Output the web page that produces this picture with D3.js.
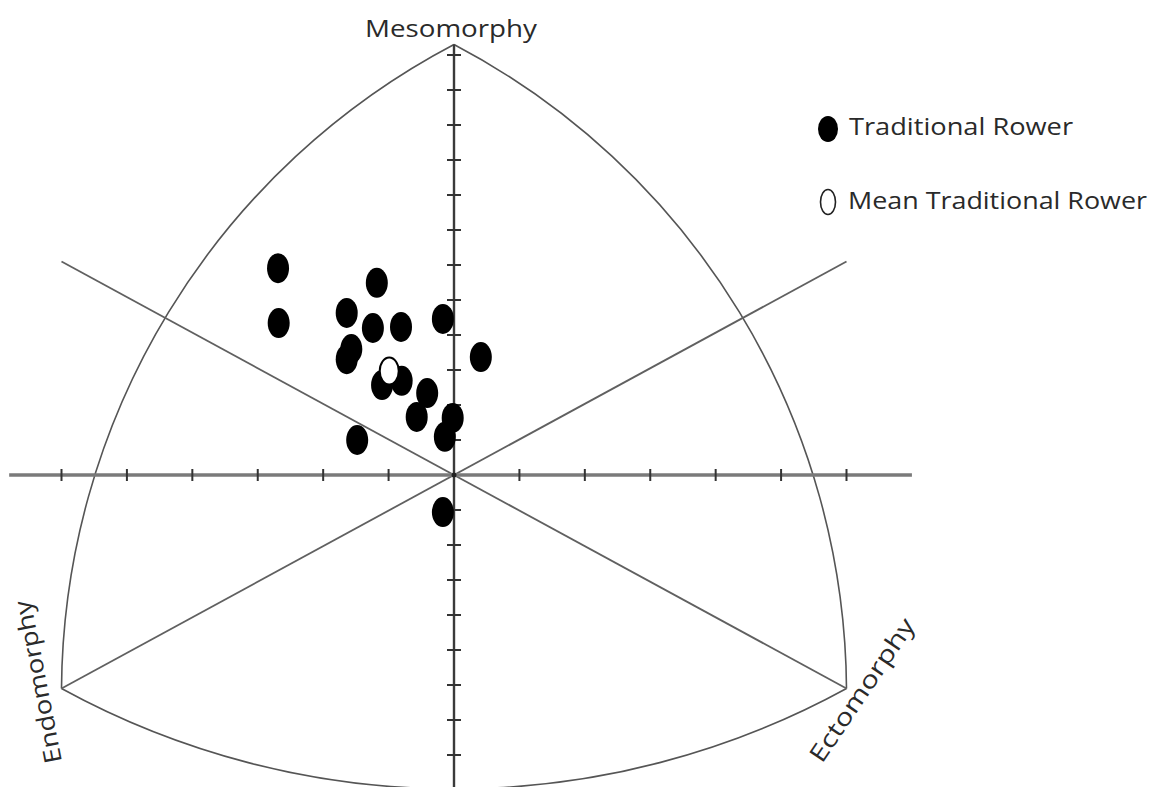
<!DOCTYPE html>
<html>
<head>
<meta charset="utf-8">
<script src="https://cdn.jsdelivr.net/npm/d3@7"></script>
<style>
    body { margin: 0; background: #fff; }
    svg { display: block; font-family: "Open Sans", sans-serif; }
</style>
</head>
<body>
<div id="somatochart"><svg></svg></div>
<script>
// somatotype points (X = ecto - endo, Y = 2*meso - (endo + ecto))
const rowerX = [-2.69, -2.68, -1.18, -1.64, -1.24, -0.81, -0.17, 0.41, -1.57, -1.64, -1.10, -0.80, -0.41, -0.57, -0.02, -0.14, -1.48, -0.17];
const rowerY = [5.91, 4.34, 5.49, 4.63, 4.20, 4.23, 4.46, 3.37, 3.60, 3.31, 2.57, 2.69, 2.34, 1.66, 1.63, 1.09, 1.00, -1.06];
const meanX = [-0.99];
const meanY = [2.97];

// chart frame
const vertexNames = ['Mesomorphy', 'Endomorphy', 'Ectomorphy'];
const vertexX = [0, -6, 6];
const vertexY = [12.3, -6.1, -6.1];
// point on each arc between two vertices (from, to, mid x, mid y)
const arcFrom = [0, 0, 1];
const arcTo = [1, 2, 2];
const arcMidX = [-5.49, 5.49, 0];
const arcMidY = [0, 0, -8.97];
const xTicks = [-6, -5, -4, -3, -2, -1, 1, 2, 3, 4, 5, 6];
const yTicks = [-9, -8, -7, -6, -5, -4, -3, -2, -1, 1, 2, 3, 4, 5, 6, 7, 8, 9, 10, 11, 12];
const xAxisExtent = [-6.8, 7.0];
const yAxisExtent = [-9.5, 12.3];
const legendLabels = ['Traditional Rower', 'Mean Traditional Rower'];

const width = 1151, height = 787;

const x = d3.scaleLinear().domain([-6, 6]).range([61.5, 846.5]);
const y = d3.scaleLinear().domain([-6, 12]).range([685, 55]);

const svg = d3.select('#somatochart svg')
    .attr('width', width)
    .attr('height', height);

// circle through three points -> svg arc
function arcPath(p1, pm, p2) {
    const ax = p1[0], ay = p1[1], bx = pm[0], by = pm[1], cx = p2[0], cy = p2[1];
    const d = 2 * (ax * (by - cy) + bx * (cy - ay) + cx * (ay - by));
    const ux = ((ax * ax + ay * ay) * (by - cy) + (bx * bx + by * by) * (cy - ay) + (cx * cx + cy * cy) * (ay - by)) / d;
    const uy = ((ax * ax + ay * ay) * (cx - bx) + (bx * bx + by * by) * (ax - cx) + (cx * cx + cy * cy) * (bx - ax)) / d;
    const r = Math.hypot(ax - ux, ay - uy);
    const cross = (bx - ax) * (cy - by) - (by - ay) * (cx - bx);
    const sweep = cross > 0 ? 1 : 0;
    return `M${ax},${ay} A${r},${r} 0 0 ${sweep} ${cx},${cy}`;
}

const vpx = vertexX.map((v, i) => [x(v), y(vertexY[i])]);

svg.append('g').attr('class', 'arcs')
    .selectAll('path')
    .data(arcFrom)
    .enter()
    .append('path')
    .attr('d', (d, i) => arcPath(vpx[d], [x(arcMidX[i]), y(arcMidY[i])], vpx[arcTo[i]]))
    .attr('fill', 'none')
    .attr('stroke', '#555')
    .attr('stroke-width', 1.6);

// diagonal lines through the origin
const diag = svg.append('g').attr('class', 'diagonals');
diag.append('line')
    .attr('x1', x(vertexX[1])).attr('y1', y(vertexY[1]))
    .attr('x2', x(-vertexX[1])).attr('y2', y(-vertexY[1]))
    .attr('stroke', '#606060').attr('stroke-width', 1.8);
diag.append('line')
    .attr('x1', x(vertexX[2])).attr('y1', y(vertexY[2]))
    .attr('x2', x(-vertexX[2])).attr('y2', y(-vertexY[2]))
    .attr('stroke', '#606060').attr('stroke-width', 1.8);

// lines from the mesomorphy vertex to the top of the axis
// horizontal axis
svg.append('line')
    .attr('x1', x(xAxisExtent[0])).attr('x2', x(xAxisExtent[1]))
    .attr('y1', y(0)).attr('y2', y(0))
    .attr('stroke', '#7a7a7a')
    .attr('stroke-width', 3.5);

svg.append('g').attr('class', 'x-ticks')
    .selectAll('line')
    .data(xTicks)
    .enter()
    .append('line')
    .attr('x1', d => x(d)).attr('x2', d => x(d))
    .attr('y1', y(0) - 6).attr('y2', y(0) + 6)
    .attr('stroke', '#333')
    .attr('stroke-width', 2);

// vertical axis
svg.append('line')
    .attr('x1', x(0)).attr('x2', x(0))
    .attr('y1', y(yAxisExtent[1])).attr('y2', y(yAxisExtent[0]))
    .attr('stroke', '#3a3a3a')
    .attr('stroke-width', 2.4);

svg.append('g').attr('class', 'y-ticks')
    .selectAll('line')
    .data(yTicks)
    .enter()
    .append('line')
    .attr('x1', x(0) - 7).attr('x2', x(0) + 7)
    .attr('y1', d => y(d)).attr('y2', d => y(d))
    .attr('stroke', '#333')
    .attr('stroke-width', 2);

svg.append('circle')
    .attr('cx', x(0)).attr('cy', y(0))
    .attr('r', 2.5)
    .attr('fill', '#222');

// vertex labels
const labelPos = [
    {x: 451, y: 37, rot: 0, len: 172},
    {x: 38, y: 682, rot: -101, len: 165},
    {x: 862, y: 690, rot: -56, len: 168}
];
svg.append('g').attr('class', 'vertex-labels')
    .selectAll('text')
    .data(vertexNames)
    .enter()
    .append('text')
    .attr('transform', (d, i) => `translate(${labelPos[i].x},${labelPos[i].y}) rotate(${labelPos[i].rot})`)
    .attr('text-anchor', 'middle')
    .attr('dy', (d, i) => i === 0 ? 0 : '0.35em')
    .attr('textLength', (d, i) => labelPos[i].len)
    .attr('lengthAdjust', 'spacingAndGlyphs')
    .attr('font-size', 24)
    .attr('fill', '#2a2a2a')
    .text(d => d);

// rowers
svg.append('g').attr('class', 'rowers')
    .selectAll('ellipse')
    .data(rowerX)
    .enter()
    .append('ellipse')
    .attr('cx', d => x(d))
    .attr('cy', (d, i) => y(rowerY[i]))
    .attr('rx', 11)
    .attr('ry', 15)
    .attr('fill', '#000');

svg.append('g').attr('class', 'mean')
    .selectAll('ellipse')
    .data(meanX)
    .enter()
    .append('ellipse')
    .attr('cx', d => x(d))
    .attr('cy', (d, i) => y(meanY[i]))
    .attr('rx', 9.5)
    .attr('ry', 13.5)
    .attr('fill', '#fff')
    .attr('stroke', '#000')
    .attr('stroke-width', 2);

// legend
const legend = svg.append('g').attr('class', 'legend');
legend.append('ellipse')
    .attr('cx', 828).attr('cy', 129)
    .attr('rx', 10).attr('ry', 13)
    .attr('fill', '#000');
legend.append('ellipse')
    .attr('cx', 828).attr('cy', 202)
    .attr('rx', 7.5).attr('ry', 12.5)
    .attr('fill', '#fff')
    .attr('stroke', '#222')
    .attr('stroke-width', 1.6);
legend.selectAll('text')
    .data(legendLabels)
    .enter()
    .append('text')
    .attr('x', (d, i) => i === 0 ? 849 : 848)
    .attr('y', (d, i) => i === 0 ? 135 : 209)
    .attr('textLength', (d, i) => i === 0 ? 224 : 299)
    .attr('lengthAdjust', 'spacingAndGlyphs')
    .attr('font-size', 24)
    .attr('fill', '#2a2a2a')
    .text(d => d);
</script>
</body>
</html>
